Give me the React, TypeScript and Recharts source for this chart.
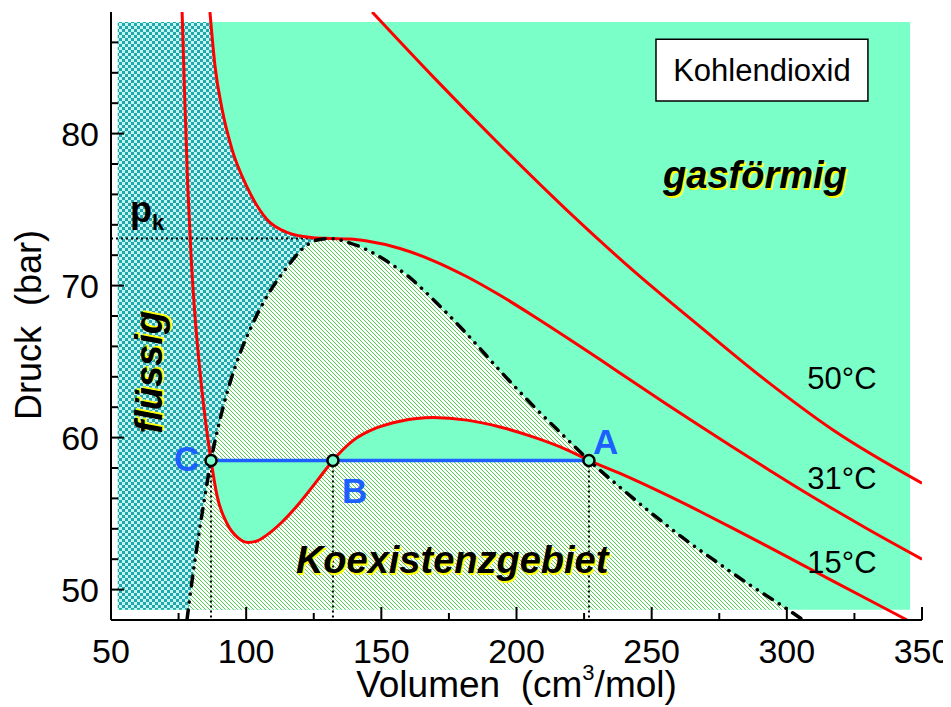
import React from 'react'
import {
  ComposedChart,
  XAxis,
  YAxis,
  Area,
  Line,
  ReferenceDot,
  ReferenceArea,
  Label
} from 'recharts'

const FONT = '"Liberation Sans", Arial, Helvetica, sans-serif'
const RED = '#ff0000'
const BLUE = '#1d5fff'
const MINT = '#7bffc8'

// isotherms of CO2, v in cm³/mol, p in bar
const iso15 = [
  { v: 76.3, p: 88.0 },
  { v: 77.3, p: 82.2 },
  { v: 78.4, p: 76.5 },
  { v: 79.6, p: 72.0 },
  { v: 80.9, p: 68.4 },
  { v: 82.6, p: 64.9 },
  { v: 84.6, p: 61.6 },
  { v: 87.0, p: 58.5 },
  { v: 89.2, p: 56.2 },
  { v: 92.9, p: 54.35 },
  { v: 97.0, p: 53.4 },
  { v: 100.7, p: 53.1 },
  { v: 104.0, p: 53.2 },
  { v: 107.7, p: 53.6 },
  { v: 113.0, p: 54.4 },
  { v: 118.8, p: 55.5 },
  { v: 126.2, p: 57.15 },
  { v: 132.1, p: 58.5 },
  { v: 139.5, p: 59.8 },
  { v: 148.4, p: 60.65 },
  { v: 156.9, p: 61.08 },
  { v: 169.1, p: 61.32 },
  { v: 181.7, p: 61.15 },
  { v: 193.9, p: 60.7 },
  { v: 206.1, p: 60.05 },
  { v: 218.7, p: 59.2 },
  { v: 226.8, p: 58.5 },
  { v: 238.3, p: 57.64 },
  { v: 255.7, p: 56.21 },
  { v: 267.9, p: 55.14 },
  { v: 280.1, p: 54.03 },
  { v: 292.7, p: 52.86 },
  { v: 304.9, p: 51.71 },
  { v: 317.1, p: 50.56 },
  { v: 329.7, p: 49.38 },
  { v: 344.5, p: 48.0 }
]

const iso31 = [
  { v: 86.6, p: 88.0 },
  { v: 88.5, p: 84.4 },
  { v: 91.1, p: 81.6 },
  { v: 94.8, p: 78.95 },
  { v: 100.3, p: 76.5 },
  { v: 107.7, p: 74.35 },
  { v: 115.1, p: 73.5 },
  { v: 124.7, p: 73.15 },
  { v: 131.0, p: 73.1 },
  { v: 138.4, p: 73.06 },
  { v: 144.7, p: 72.93 },
  { v: 156.9, p: 72.44 },
  { v: 169.1, p: 71.65 },
  { v: 181.7, p: 70.58 },
  { v: 193.9, p: 69.36 },
  { v: 206.1, p: 68.02 },
  { v: 218.7, p: 66.57 },
  { v: 230.9, p: 65.13 },
  { v: 243.1, p: 63.67 },
  { v: 255.7, p: 62.18 },
  { v: 267.9, p: 60.76 },
  { v: 280.1, p: 59.36 },
  { v: 292.7, p: 57.95 },
  { v: 304.9, p: 56.6 },
  { v: 317.1, p: 55.3 },
  { v: 329.7, p: 54.0 },
  { v: 350.0, p: 52.0 }
]

const iso50 = [
  { v: 146.6, p: 88.0 },
  { v: 169.1, p: 83.75 },
  { v: 193.9, p: 79.25 },
  { v: 218.7, p: 74.95 },
  { v: 243.1, p: 71.0 },
  { v: 267.9, p: 67.3 },
  { v: 292.7, p: 63.7 },
  { v: 317.1, p: 60.5 },
  { v: 350.0, p: 57.0 }
]

// boundary of the two-phase region
const dome = [
  { v: 78.1, p: 48.0 },
  { v: 80.0, p: 50.6 },
  { v: 82.3, p: 53.4 },
  { v: 84.6, p: 56.0 },
  { v: 87.0, p: 58.5 },
  { v: 89.8, p: 60.8 },
  { v: 93.0, p: 63.0 },
  { v: 96.6, p: 65.0 },
  { v: 101.4, p: 67.1 },
  { v: 107.7, p: 69.3 },
  { v: 115.1, p: 71.2 },
  { v: 121.0, p: 72.45 },
  { v: 126.2, p: 73.0 },
  { v: 131.0, p: 73.1 },
  { v: 138.4, p: 72.8 },
  { v: 144.7, p: 72.35 },
  { v: 152.1, p: 71.6 },
  { v: 160.0, p: 70.6 },
  { v: 169.1, p: 69.1 },
  { v: 181.7, p: 66.8 },
  { v: 193.9, p: 64.4 },
  { v: 206.1, p: 62.1 },
  { v: 218.7, p: 59.9 },
  { v: 226.8, p: 58.5 },
  { v: 237.2, p: 56.9 },
  { v: 249.4, p: 55.1 },
  { v: 261.6, p: 53.4 },
  { v: 274.2, p: 51.8 },
  { v: 286.4, p: 50.3 },
  { v: 298.6, p: 48.9 },
  { v: 306.0, p: 48.0 }
]

const pCrit = 73.1
const vCrit = 131.0
const pointC = { v: 87.0, p: 58.5 }
const pointB = { v: 132.1, p: 58.5 }
const pointA = { v: 226.8, p: 58.5 }

const vMajor = [50, 100, 150, 200, 250, 300, 350]
const vTicks = [50, 75, 100, 125, 150, 175, 200, 225, 250, 275, 300, 325, 350]
const pMajor = [50, 60, 70, 80]
const pTicks = [50, 52, 54, 56, 58, 60, 62, 64, 66, 68, 70, 72, 74, 76, 78, 80, 82, 84, 86]

// coloured background box and the regions built from the curves
const box = { v0: 52.5, v1: 345.6, p0: 48.68, p1: 87.35 }
const gasFill = [
  { v: box.v0, p: box.p1 },
  { v: box.v1, p: box.p1 }
]
const liquidFill = [
  { v: box.v0, p: box.p1 },
  { v: 87.0, p: box.p1 },
  ...iso31.filter((d) => d.v > 87 && d.v <= vCrit)
]
const coexFill = [
  { v: 78.6, p: box.p0 },
  ...dome.filter((d) => d.p > box.p0),
  { v: 300.7, p: box.p0 }
]
const loopFill = iso15.filter((d) => d.v >= pointC.v && d.v <= pointA.v)

const tieLine = [pointC, pointA]
const pkLine = [
  { v: 50, p: pCrit },
  { v: vCrit, p: pCrit }
]
const drops = [pointC, pointB, pointA].map((pt) => [pt, { v: pt.v, p: 48 }])

function BottomTick({ x, y, payload }: any) {
  const major = vMajor.includes(payload.value)
  return (
    <g>
      <line x1={x} y1={y} x2={x} y2={y - (major ? 13 : 7)} stroke="#000" strokeWidth={2} />
      {major && (
        <text x={x} y={y + 43} textAnchor="middle" fontSize={34} fontFamily={FONT} fill="#000">
          {payload.value}
        </text>
      )}
    </g>
  )
}

function TopTick({ x, y, payload }: any) {
  const major = vMajor.includes(payload.value)
  return <line x1={x} y1={y} x2={x} y2={y + (major ? 13 : 7)} stroke="#000" strokeWidth={2} />
}

function LeftTick({ x, y, payload }: any) {
  const major = pMajor.includes(payload.value)
  return (
    <g>
      <line x1={x} y1={y} x2={x + (major ? 13 : 7)} y2={y} stroke="#000" strokeWidth={2} />
      {major && (
        <text x={x - 12} y={y + 12} textAnchor="end" fontSize={34} fontFamily={FONT} fill="#000">
          {payload.value}
        </text>
      )}
    </g>
  )
}

function RightTick({ x, y, payload }: any) {
  const major = pMajor.includes(payload.value)
  return <line x1={x} y1={y} x2={x - (major ? 13 : 7)} y2={y} stroke="#000" strokeWidth={2} />
}

function XTitle({ viewBox }: any) {
  return (
    <text
      x={viewBox.x + viewBox.width / 2}
      y={viewBox.y + 77}
      textAnchor="middle"
      fontSize={37}
      fontFamily={FONT}
      fill="#000"
    >
      Volumen{'\u00a0\u00a0'}(cm
      <tspan fontSize={22} dy={-17}>3</tspan>
      <tspan dy={17}>/mol)</tspan>
    </text>
  )
}

function YTitle({ viewBox }: any) {
  const cx = viewBox.x + 33
  const cy = 317
  return (
    <text
      x={cx}
      y={cy}
      transform={`rotate(-90 ${cx} ${cy})`}
      textAnchor="middle"
      fontSize={36}
      fontFamily={FONT}
      fill="#000"
    >
      Druck{'\u00a0\u00a0'}(bar)
    </text>
  )
}

function RegionText({ cx, cy, text, rotate }: any) {
  const common = {
    textAnchor: 'middle' as const,
    fontSize: 38,
    fontWeight: 'bold',
    fontStyle: 'italic',
    fontFamily: FONT
  }
  return (
    <g transform={rotate ? `rotate(-90 ${cx} ${cy})` : undefined}>
      <text {...common} x={cx + 1.6} y={cy + 13.6} fill="#ffff00">
        {text}
      </text>
      <text {...common} x={cx} y={cy + 12} fill="#000">
        {text}
      </text>
    </g>
  )
}

function PlainText({ cx, cy, text, size, color, bold }: any) {
  return (
    <text
      x={cx}
      y={cy + size * 0.36}
      textAnchor="middle"
      fontSize={size}
      fontWeight={bold ? 'bold' : 'normal'}
      fontFamily={FONT}
      fill={color}
    >
      {text}
    </text>
  )
}

export default function App() {
  return (
    <ComposedChart width={943} height={699} margin={{ top: 4, right: 29, bottom: 0, left: 0 }}>
      <defs>
        <pattern id="liquid" patternUnits="userSpaceOnUse" width="6" height="6">
          <rect width="6" height="6" fill="#1fa7ab" />
          <rect x="0" y="0" width="3" height="3" fill="#c4f4ef" />
          <rect x="3" y="3" width="3" height="3" fill="#c4f4ef" />
        </pattern>
        <pattern id="coex" patternUnits="userSpaceOnUse" width="4" height="4">
          <rect width="4" height="4" fill="#ffffff" />
          <path d="M-1,-1 L5,5 M-1,3 L1,5 M3,-1 L5,1" stroke="#2ecc2e" strokeWidth="0.85" />
        </pattern>
      </defs>

      <XAxis
        xAxisId={0}
        dataKey="v"
        type="number"
        domain={[50, 350]}
        ticks={vTicks}
        interval={0}
        allowDataOverflow
        height={87}
        tickSize={0}
        tickMargin={0}
        tickLine={false}
        tick={<BottomTick />}
        axisLine={{ stroke: '#000', strokeWidth: 2 }}
      >
        <Label content={<XTitle />} />
      </XAxis>
      <XAxis
        xAxisId="top"
        orientation="top"
        dataKey="v"
        type="number"
        domain={[50, 350]}
        ticks={vTicks}
        interval={0}
        allowDataOverflow
        height={0}
        tickSize={0}
        tickMargin={0}
        tickLine={false}
        tick={<TopTick />}
        axisLine={{ stroke: '#000', strokeWidth: 2 }}
      />
      <YAxis
        yAxisId={0}
        dataKey="p"
        type="number"
        domain={[48, 88]}
        ticks={pTicks}
        interval={0}
        allowDataOverflow
        width={103}
        tickSize={0}
        tickMargin={0}
        tickLine={false}
        tick={<LeftTick />}
        axisLine={{ stroke: '#000', strokeWidth: 2 }}
      >
        <Label content={<YTitle />} />
      </YAxis>
      <YAxis
        yAxisId="right"
        orientation="right"
        dataKey="p"
        type="number"
        domain={[48, 88]}
        ticks={pTicks}
        interval={0}
        allowDataOverflow
        width={0}
        tickSize={0}
        tickMargin={0}
        tickLine={false}
        tick={<RightTick />}
        axisLine={{ stroke: '#000', strokeWidth: 2 }}
      />

      {/* regions */}
      <Area data={gasFill} dataKey="p" type="linear" baseValue={box.p0} fill={MINT} fillOpacity={1} stroke="none" isAnimationActive={false} />
      <Area data={liquidFill} dataKey="p" type="monotone" baseValue={box.p0} fill="url(#liquid)" fillOpacity={1} stroke="none" isAnimationActive={false} />
      <Area data={coexFill} dataKey="p" type="monotone" baseValue={box.p0} fill="url(#coex)" fillOpacity={1} stroke="none" isAnimationActive={false} />
      <Area data={loopFill} dataKey="p" type="monotone" baseValue={pointC.p} fill={MINT} fillOpacity={1} stroke="none" isAnimationActive={false} />

      {/* guide lines */}
      <Line data={pkLine} dataKey="p" type="linear" stroke="#000" strokeWidth={2} strokeDasharray="2 3" dot={false} isAnimationActive={false} />
      {drops.map((seg, i) => (
        <Line key={i} data={seg} dataKey="p" type="linear" stroke="#000" strokeWidth={2} strokeDasharray="2 3" dot={false} isAnimationActive={false} />
      ))}

      {/* isotherms */}
      <Line data={iso15} dataKey="p" type="monotone" stroke={RED} strokeWidth={3} dot={false} isAnimationActive={false} />
      <Line data={iso31} dataKey="p" type="monotone" stroke={RED} strokeWidth={3} dot={false} isAnimationActive={false} />
      <Line data={iso50} dataKey="p" type="monotone" stroke={RED} strokeWidth={3} dot={false} isAnimationActive={false} />

      <Line
        data={dome}
        dataKey="p"
        type="monotone"
        stroke="#000"
        strokeWidth={3.5}
        strokeDasharray="10 8 0.1 8 0.1 8"
        strokeLinecap="round"
        dot={false}
        isAnimationActive={false}
      />

      <Line data={tieLine} dataKey="p" type="linear" stroke={BLUE} strokeWidth={3.5} dot={false} isAnimationActive={false} />

      {[pointC, pointB, pointA].map((pt, i) => (
        <ReferenceDot key={i} x={pt.v} y={pt.p} r={5.5} fill={MINT} fillOpacity={1} stroke="#000" strokeWidth={2.5} />
      ))}

      <ReferenceArea
        x1={251.6}
        x2={330}
        y1={82.15}
        y2={86.2}
        fill="#fff"
        fillOpacity={1}
        stroke="#000"
        strokeWidth={1.5}
        label={{ value: 'Kohlendioxid', position: 'center', fontSize: 31, fill: '#000', fontFamily: FONT }}
      />

      <ReferenceDot x={288.2} y={77.2} r={1} shape={(pr: any) => <RegionText cx={pr.cx} cy={pr.cy} text="gasförmig" />} />
      <ReferenceDot x={176.2} y={51.85} r={1} shape={(pr: any) => <RegionText cx={pr.cx} cy={pr.cy} text="Koexistenzgebiet" />} />
      <ReferenceDot x={64.4} y={64.3} r={1} shape={(pr: any) => <RegionText cx={pr.cx} cy={pr.cy} text="flüssig" rotate />} />

      <ReferenceDot x={320.4} y={63.95} r={1} shape={(pr: any) => <PlainText cx={pr.cx} cy={pr.cy} text="50°C" size={31} color="#000" />} />
      <ReferenceDot x={320.4} y={57.35} r={1} shape={(pr: any) => <PlainText cx={pr.cx} cy={pr.cy} text="31°C" size={31} color="#000" />} />
      <ReferenceDot x={320.4} y={51.85} r={1} shape={(pr: any) => <PlainText cx={pr.cx} cy={pr.cy} text="15°C" size={31} color="#000" />} />

      <ReferenceDot x={78.0} y={58.6} r={1} shape={(pr: any) => <PlainText cx={pr.cx} cy={pr.cy} text="C" size={35} color={BLUE} bold />} />
      <ReferenceDot x={140.1} y={56.5} r={1} shape={(pr: any) => <PlainText cx={pr.cx} cy={pr.cy} text="B" size={35} color={BLUE} bold />} />
      <ReferenceDot x={233.0} y={59.75} r={1} shape={(pr: any) => <PlainText cx={pr.cx} cy={pr.cy} text="A" size={35} color={BLUE} bold />} />

      <ReferenceDot
        x={57.4}
        y={74.2}
        r={1}
        shape={(pr: any) => (
          <text x={pr.cx - 1} y={pr.cy} fontSize={36} fontWeight="bold" fontFamily={FONT} fill="#000">
            p
            <tspan fontSize={22} dy={8}>k</tspan>
          </text>
        )}
      />
    </ComposedChart>
  )
}
